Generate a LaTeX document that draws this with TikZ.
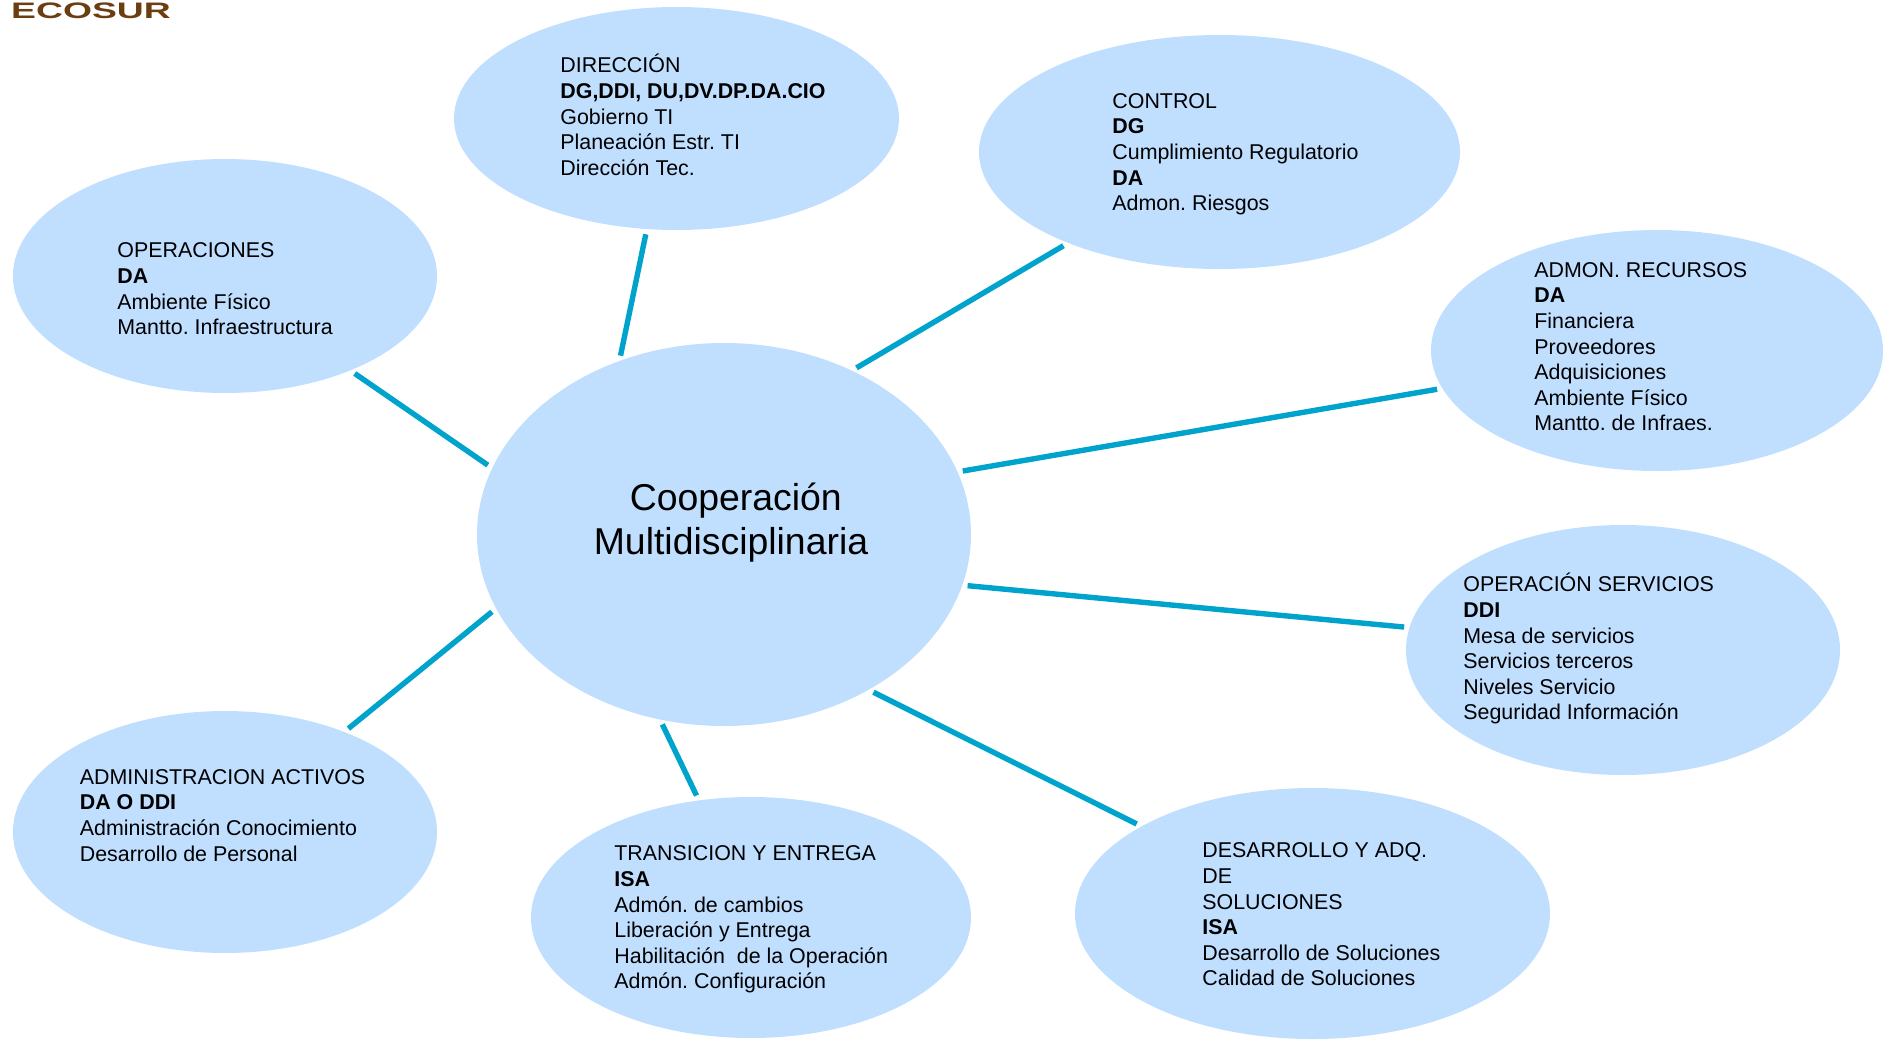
\documentclass[tikz,border=0pt]{standalone}
\usepackage{fontspec}
\setmainfont{Liberation Sans}
\usetikzlibrary{shapes.geometric, positioning}
\definecolor{cloudblue}{HTML}{C0DFFF}
\definecolor{linkblue}{HTML}{00A3CC}
\definecolor{logobrown}{HTML}{6B3E12}
\frenchspacing
\begin{document}
\begin{tikzpicture}[x=0.5pt, y=-0.5pt,
    cloud/.style={ellipse, fill=cloudblue, inner sep=0pt},
    info/.style={anchor=north west, align=left, inner sep=0pt, font=\fontsize{10.7}{12.8}\selectfont, execute at begin node=\vphantom{Ó}},
    link/.style={draw=linkblue, line width=2.7pt, shorten >=2.5pt, shorten <=2.5pt}]
    \useasboundingbox (0,0) rectangle (1889,1039);

    % ellipses
    \node[cloud, minimum width=247pt, minimum height=191.5pt] (hub) at (724,534.5) {};
    \node[cloud, minimum width=222.5pt, minimum height=111.5pt] (direccion) at (676.5,118.5) {};
    \node[cloud, minimum width=240.5pt, minimum height=117pt] (control) at (1219.5,152) {};
    \node[cloud, minimum width=212pt, minimum height=117pt] (operaciones) at (225,276) {};
    \node[cloud, minimum width=226pt, minimum height=120.5pt] (recursos) at (1657,350.5) {};
    \node[cloud, minimum width=217pt, minimum height=125pt] (servicios) at (1623,650) {};
    \node[cloud, minimum width=237.5pt, minimum height=125.5pt] (desarrollo) at (1312.5,913.5) {};
    \node[cloud, minimum width=220pt, minimum height=120.5pt] (transicion) at (751,917.5) {};
    \node[cloud, minimum width=212pt, minimum height=121pt] (activos) at (225,832) {};

    % texts
    \node[align=center, inner sep=0pt, font=\fontsize{18.7}{22.3}\selectfont] (hubtext) at (731,522.5) {\hspace*{4.8pt}Cooperación\\Multidisciplinaria};
    \node[info] (direcciontext) at (560,54) {DIRECCIÓN\\\textbf{DG,DDI, DU,DV.DP.DA.CIO}\\Gobierno TI\\Planeación Estr. TI\\Dirección Tec.};
    \node[info] (controltext) at (1112,93) {CONTROL\\\textbf{DG}\\Cumplimiento Regulatorio\\\textbf{DA}\\Admon. Riesgos};
    \node[info] (operacionestext) at (117,242.5) {OPERACIONES\\\textbf{DA}\\Ambiente Físico\\Mantto. Infraestructura};
    \node[info] (recursostext) at (1534,262) {ADMON. RECURSOS\\\textbf{DA}\\Financiera\\Proveedores\\Adquisiciones\\Ambiente Físico\\Mantto. de Infraes.};
    \node[info] (serviciostext) at (1463,573) {OPERACIÓN SERVICIOS\\\textbf{DDI}\\Mesa de servicios\\Servicios terceros\\Niveles Servicio\\Seguridad Información};
    \node[info] (desarrollotext) at (1202,842.5) {DESARROLLO Y ADQ.\\DE\\SOLUCIONES\\\textbf{ISA}\\Desarrollo de Soluciones\\Calidad de Soluciones};
    \node[info] (transiciontext) at (614,845.5) {TRANSICION Y ENTREGA\\\textbf{ISA}\\Admón. de cambios\\Liberación y Entrega\\Habilitación\ \ de la Operación\\Admón. Configuración};
    \node[info] (activostext) at (79.5,769) {ADMINISTRACION ACTIVOS\\\textbf{DA O DDI}\\Administración Conocimiento\\Desarrollo de Personal};
    \node[anchor=center, inner sep=0pt, text=logobrown, font=\bfseries\fontsize{11.2}{12}\selectfont, xscale=1.665] (logo) at (91,10.5) {ECOSUR};

    % connectors
    \draw[link] (hub.121.5) -- (direccion.255.5);
    \draw[link] (hub.52) -- (control.211.6);
    \draw[link] (hub.15.2) -- (recursos.190.9);
    \draw[link] (hub.-12) -- (servicios.174.2);
    \draw[link] (hub.-47) -- (desarrollo.153.5);
    \draw[link] (hub.251.5) -- (transicion.114.7);
    \draw[link] (hub.198.1) -- (activos.40);
    \draw[link] (hub.164.7) -- (operaciones.-37.1);
\end{tikzpicture}
\end{document}
